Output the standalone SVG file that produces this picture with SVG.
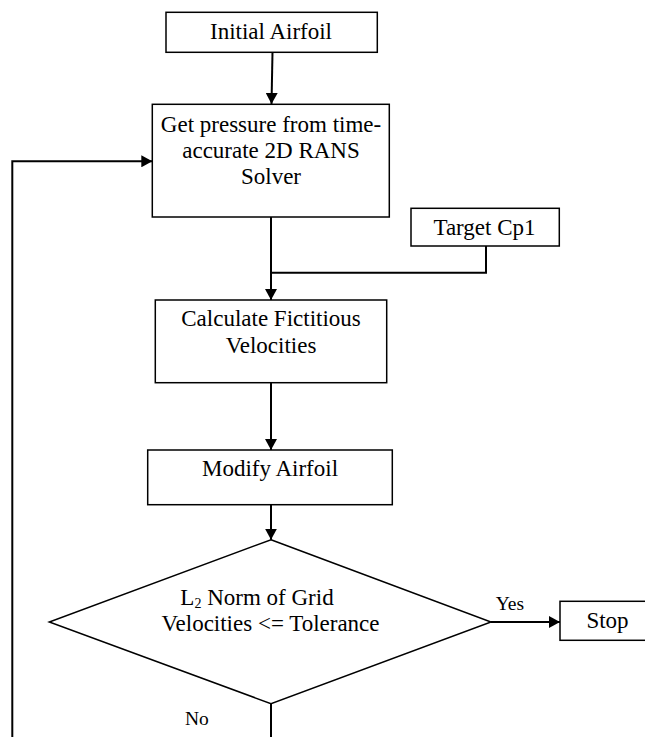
<svg xmlns="http://www.w3.org/2000/svg" width="645" height="737" viewBox="0 0 645 737">
<style>
.box{fill:#fff;stroke:#000;stroke-width:1.5}
.t{font-size:23px;fill:#000;text-anchor:middle}
.s{font-size:19.5px;fill:#000}
.c{fill:none;stroke:#000;stroke-width:2}
</style>
<defs>
<marker id="ah" markerUnits="userSpaceOnUse" markerWidth="12" markerHeight="12" refX="11" refY="6" orient="auto">
<path d="M0,0 L11,6 L0,12 z" fill="#000"/>
</marker>
</defs>
<rect width="645" height="737" fill="#fff"/>
<g font-family="'Liberation Serif', 'Times New Roman', Times, serif">
<g id="connectors">
<line class="c" x1="272.5" y1="52.3" x2="271.5" y2="104" marker-end="url(#ah)"/>
<polyline class="c" points="12.3,737 12.3,161.3 152.3,161.3" marker-end="url(#ah)"/>
<line class="c" x1="271" y1="217" x2="271" y2="300" marker-end="url(#ah)"/>
<polyline class="c" points="486,246 486,272.7 271,272.7"/>
<line class="c" x1="271" y1="382.7" x2="271" y2="450" marker-end="url(#ah)"/>
<line class="c" x1="271" y1="504.7" x2="271" y2="539.7" marker-end="url(#ah)"/>
<line class="c" x1="491" y1="622" x2="560" y2="622" marker-end="url(#ah)"/>
<line class="c" x1="271" y1="703.7" x2="271" y2="737"/>
<text class="s" x="495.7" y="610">Yes</text>
<text class="s" x="185" y="725">No</text>
</g>
<g id="initial">
<rect class="box" x="166" y="12.3" width="211.3" height="40"/>
<text class="t" x="271" y="39">Initial Airfoil</text>
</g>
<g id="getpressure">
<rect class="box" x="152.3" y="104.3" width="237" height="112.7"/>
<text class="t" x="271" y="131.5">Get pressure from time-</text>
<text class="t" x="271" y="157.5">accurate 2D RANS</text>
<text class="t" x="271" y="183.5">Solver</text>
</g>
<g id="target">
<rect class="box" x="411" y="208.3" width="148.3" height="37.7"/>
<text class="t" x="484.5" y="235">Target Cp1</text>
</g>
<g id="calculate">
<rect class="box" x="155.3" y="300" width="231.4" height="82.7"/>
<text class="t" x="271" y="326">Calculate Fictitious</text>
<text class="t" x="271" y="353">Velocities</text>
</g>
<g id="modify">
<rect class="box" x="147.7" y="450" width="244.6" height="54.7"/>
<text class="t" x="270" y="476">Modify Airfoil</text>
</g>
<g id="decision">
<polygon class="box" points="271,539.7 491,622 271,703.7 49.3,622"/>
<text class="t" x="257" y="605">L<tspan font-size="14" dy="3">2</tspan><tspan dy="-3"> Norm of Grid</tspan></text>
<text class="t" x="270.5" y="631">Velocities &lt;= Tolerance</text>
</g>
<g id="stop">
<rect class="box" x="560" y="601.3" width="95" height="39"/>
<text class="t" x="607.5" y="628">Stop</text>
</g>
</g>
</svg>
